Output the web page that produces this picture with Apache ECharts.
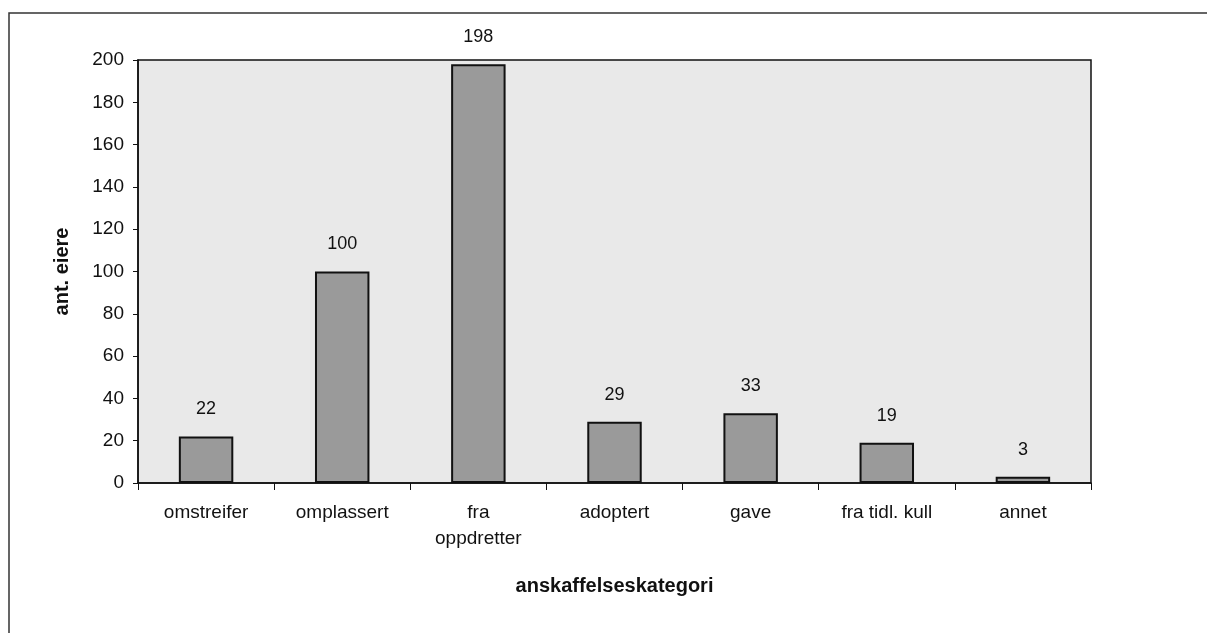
<!DOCTYPE html>
<html>
<head>
<meta charset="utf-8">
<script src="https://cdn.jsdelivr.net/npm/echarts@6/dist/echarts.min.js"></script>
<style>
  html, body { margin: 0; padding: 0; background: #fff; }
  #chart { width: 1207px; height: 633px; }
</style>
</head>
<body>
<div id="chart"></div>
<script>
let $ = a => document.querySelector(a)

// data
const categories = ['omstreifer', 'omplassert', 'fra\noppdretter', 'adoptert', 'gave', 'fra tidl. kull', 'annet']
const antEiere = [22, 100, 198, 29, 33, 19, 3]
const yTicks = [0, 20, 40, 60, 80, 100, 120, 140, 160, 180, 200]

const font = 'Liberation Sans, Arial, sans-serif'

echarts.init($('#chart')).setOption({
    backgroundColor: '#fff',
    animation: false,
    // outer frame (only top + left edges show in the scan)
    graphic: [{
        type: 'rect',
        shape: { x: 9, y: 13, width: 1400, height: 800 },
        style: { fill: 'none', stroke: '#333', lineWidth: 1.5 },
        z: 0
    }],
    grid: {
        left: 138,
        right: 116,
        top: 60,
        bottom: 150,
        show: true,
        backgroundColor: '#e9e9e9',
        borderColor: '#111',
        borderWidth: 1.5
    },
    xAxis: {
        type: 'category',
        data: categories,
        name: 'anskaffelseskategori',
        nameLocation: 'middle',
        nameGap: 93,
        nameTextStyle: { fontFamily: font, fontSize: 20, fontWeight: 'bold', color: '#111' },
        axisLine: { lineStyle: { color: '#111', width: 1.5 } },
        axisTick: { show: true, length: 7, lineStyle: { color: '#111' } },
        axisLabel: { fontFamily: font, fontSize: 19, color: '#111', margin: 17, lineHeight: 26, interval: 0 }
    },
    yAxis: {
        type: 'value',
        min: 0,
        max: 200,
        interval: 20,
        name: 'ant. eiere',
        nameLocation: 'middle',
        nameGap: 66,
        nameTextStyle: { fontFamily: font, fontSize: 20, fontWeight: 'bold', color: '#111' },
        axisLine: { show: true, lineStyle: { color: '#111', width: 1.5 } },
        axisTick: { show: true, length: 5, lineStyle: { color: '#111' } },
        splitLine: { show: false },
        axisLabel: {
            fontFamily: font, fontSize: 19, color: '#111', margin: 14,
            formatter: v => yTicks.includes(v) ? String(v) : ''
        }
    },
    series: [{
        type: 'bar',
        data: antEiere,
        barWidth: '40%',
        itemStyle: { color: '#9a9a9a', borderColor: '#111', borderWidth: 2 },
        label: {
            show: true,
            position: 'top',
            distance: 18,
            fontFamily: font,
            fontSize: 18,
            color: '#111'
        }
    }]
})
</script>
</body>
</html>
